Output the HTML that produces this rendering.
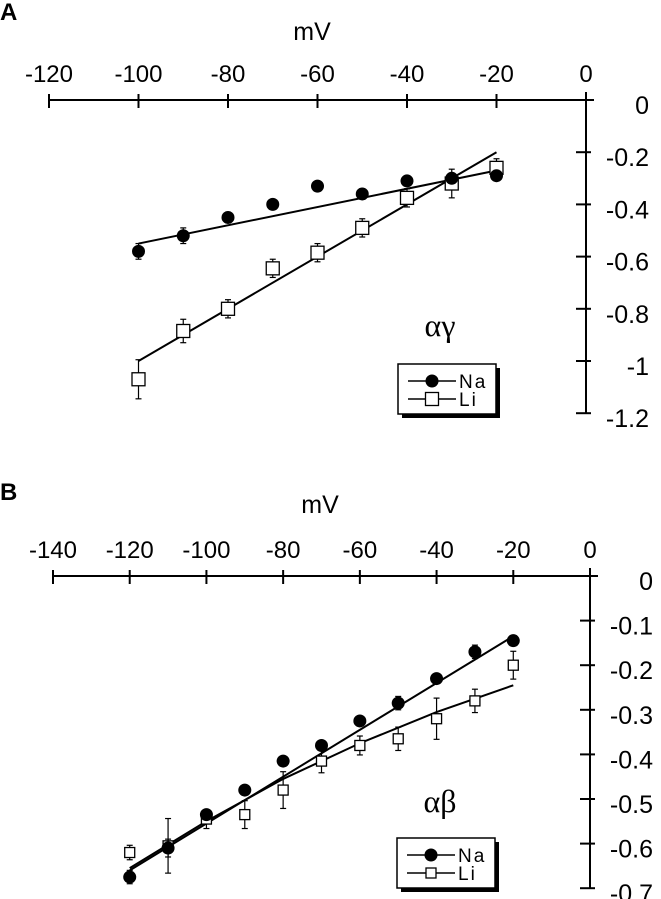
<!DOCTYPE html>
<html><head><meta charset="utf-8">
<style>
html,body{margin:0;padding:0;background:#fff;}
svg{display:block;font-family:"Liberation Sans",Arial,sans-serif;}
</style></head>
<body>
<svg id="chart" width="661" height="899" viewBox="0 0 661 899" xmlns="http://www.w3.org/2000/svg"></svg>
<script>
// ---- Panel A data (alpha-gamma) ----
const aXTicks = [-120,-100,-80,-60,-40,-20,0];
const aYTicks = [0,-0.2,-0.4,-0.6,-0.8,-1,-1.2];
const aVolt = [-100,-90,-80,-70,-60,-50,-40,-30,-20];
const aNa = [-0.58,-0.52,-0.45,-0.40,-0.33,-0.36,-0.31,-0.30,-0.29];
const aNaErr = [0.03,0.03,0.02,0.01,0.01,0.02,0.01,0.01,0.02];
const aLi = [-1.07,-0.885,-0.80,-0.645,-0.585,-0.49,-0.375,-0.32,-0.26];
const aLiErr = [0.05,0.02,0.01,0.01,0.01,0.01,0.01,0.03,0.01];
const aNaFitX = [-100,-20];
const aNaFitY = [-0.55,-0.27];
const aLiFitX = [-100,-20];
const aLiFitY = [-1.0,-0.2];
// ---- Panel B data (alpha-beta) ----
const bXTicks = [-140,-120,-100,-80,-60,-40,-20,0];
const bYTicks = [0,-0.1,-0.2,-0.3,-0.4,-0.5,-0.6,-0.7];
const bVolt = [-120,-110,-100,-90,-80,-70,-60,-50,-40,-30,-20];
const bNa = [-0.675,-0.61,-0.535,-0.48,-0.415,-0.38,-0.325,-0.285,-0.23,-0.17,-0.145];
const bNaErr = [0.015,0.02,0.01,0.01,0.01,0.01,0.01,0.015,0.01,0.015,0.01];
const bLi = [-0.62,-0.605,-0.545,-0.535,-0.48,-0.415,-0.38,-0.365,-0.32,-0.28,-0.20];
const bLiErr = [0.005,0.05,0.01,0.02,0.03,0.015,0.01,0.015,0.035,0.015,0.02];
const bNaFitX = [-120,-20];
const bNaFitY = [-0.66,-0.135];
const bLiFitX = [-120,-100,-80,-60,-40,-20];
const bLiFitY = [-0.655,-0.55,-0.455,-0.375,-0.305,-0.245];

const NS="http://www.w3.org/2000/svg";
const svg=document.getElementById('chart');
function mk(tag,attrs,parent){const e=document.createElementNS(NS,tag);for(const k in attrs)e.setAttribute(k,attrs[k]);(parent||svg).appendChild(e);return e;}

function panel(cfg){
  const g=mk('g',{});
  
  
  const sx=v=>cfg.x0+(v-cfg.xmin)/(0-cfg.xmin)*(cfg.xZero-cfg.x0);
  const sy=v=>cfg.yAxis+(-v)*cfg.yPerUnit;
  const xa=mk('line',{x1:sx(cfg.xmin),y1:cfg.yAxis,x2:cfg.xZero+8,y2:cfg.yAxis,stroke:'#000','stroke-width':2},g);
  
  
  cfg.xTicks.forEach(t=>{
    mk('line',{x1:sx(t),y1:cfg.yAxis-6,x2:sx(t),y2:cfg.yAxis+8,stroke:'#000','stroke-width':2},g);
    const tx=mk('text',{x:sx(t),y:cfg.yAxis-18,'font-size':24,'text-anchor':'middle'},g);
    tx.textContent=String(t);
    
    
  });
  const ml=mk('text',{x:cfg.mvX,y:cfg.mvY,'font-size':25,'text-anchor':'middle'},g);
  ml.textContent='mV';
  
  
  const ylast=cfg.yTicks[cfg.yTicks.length-1];
  const ya=mk('line',{x1:cfg.xZero,y1:cfg.yAxis-8,x2:cfg.xZero,y2:sy(ylast),stroke:'#000','stroke-width':2},g);
  
  
  cfg.yTicks.forEach(t=>{
    if(t!==0) mk('line',{x1:cfg.xZero-10,y1:sy(t),x2:cfg.xZero+5,y2:sy(t),stroke:'#000','stroke-width':2},g);
    const ty=mk('text',{x:cfg.xZero+63,y:sy(t)+14,'font-size':25,'text-anchor':'end'},g);
    ty.textContent=String(t);
    
    
  });
  const fit=(xs,ys,name)=>{
    const p=mk('polyline',{points:xs.map((x,i)=>sx(x)+','+sy(ys[i])).join(' '),fill:'none',stroke:'#000','stroke-width':2},g);
    
    
  };
  fit(cfg.naFitX,cfg.naFitY,'na-fit-line');
  fit(cfg.liFitX,cfg.liFitY,'li-fit-line');
  cfg.volt.forEach((v,i)=>{
    const cx=sx(v),cy=sy(cfg.li[i]),e=cfg.liErr[i]*cfg.yPerUnit,h=cfg.sq/2;
    mk('line',{x1:cx,y1:cy-h-e,x2:cx,y2:cy+h+e,stroke:'#000','stroke-width':1.2},g);
    mk('line',{x1:cx-3,y1:cy-h-e,x2:cx+3,y2:cy-h-e,stroke:'#000','stroke-width':1.2},g);
    mk('line',{x1:cx-3,y1:cy+h+e,x2:cx+3,y2:cy+h+e,stroke:'#000','stroke-width':1.2},g);
    const r=mk('rect',{x:cx-h,y:cy-h,width:cfg.sq,height:cfg.sq,fill:'#fff',stroke:'#000','stroke-width':1.3},g);
    
    
  });
  cfg.volt.forEach((v,i)=>{
    const cx=sx(v),cy=sy(cfg.na[i]),e=cfg.naErr[i]*cfg.yPerUnit;
    mk('line',{x1:cx,y1:cy-e,x2:cx,y2:cy+e,stroke:'#000','stroke-width':1.2},g);
    mk('line',{x1:cx-3,y1:cy-e,x2:cx+3,y2:cy-e,stroke:'#000','stroke-width':1.2},g);
    mk('line',{x1:cx-3,y1:cy+e,x2:cx+3,y2:cy+e,stroke:'#000','stroke-width':1.2},g);
    const c=mk('circle',{cx:cx,cy:cy,r:6.5,fill:'#000'},g);
    
    
  });
  const ti=mk('text',{x:cfg.titleX,y:cfg.titleY,'font-size':32,'font-family':'"Liberation Serif",serif','text-anchor':'middle'},g);
  ti.textContent=cfg.title;
  
  
  const lg=mk('g',{},g);
  
  
  const lx=cfg.legX,ly=cfg.legY;
  mk('rect',{x:lx+4,y:ly+4,width:98,height:50,fill:'#000'},lg);
  mk('rect',{x:lx,y:ly,width:98,height:50,fill:'#fff',stroke:'#000','stroke-width':1.5},lg);
  mk('line',{x1:lx+10,y1:ly+17,x2:lx+58,y2:ly+17,stroke:'#000','stroke-width':1.5},lg);
  mk('circle',{cx:lx+34,cy:ly+17,r:6.5,fill:'#000'},lg);
  const t1=mk('text',{x:lx+61,y:ly+24,'font-size':19,'letter-spacing':2},lg);t1.textContent='Na';
  
  
  mk('line',{x1:lx+10,y1:ly+35,x2:lx+58,y2:ly+35,stroke:'#000','stroke-width':1.5},lg);
  mk('rect',{x:lx+34-cfg.sq/2,y:ly+35-cfg.sq/2,width:cfg.sq,height:cfg.sq,fill:'#fff',stroke:'#000','stroke-width':1.3},lg);
  const t2=mk('text',{x:lx+61,y:ly+42,'font-size':19,'letter-spacing':2},lg);t2.textContent='Li';
  
  
  const pl=mk('text',{x:cfg.letX,y:cfg.letY,'font-size':24,'font-weight':'bold'},g);
  pl.textContent=cfg.letter;
  
  
}

panel({name:'panel-a',letter:'A',letX:0,letY:20,x0:49,xmin:-120,xZero:586,yAxis:100,yPerUnit:261,
  xTicks:aXTicks,yTicks:aYTicks,volt:aVolt,na:aNa,naErr:aNaErr,li:aLi,liErr:aLiErr,
  naFitX:aNaFitX,naFitY:aNaFitY,liFitX:aLiFitX,liFitY:aLiFitY,sq:13,
  mvX:312,mvY:40,title:'αγ',titleX:440,titleY:336,legX:398,legY:364});
panel({name:'panel-b',letter:'B',letX:0,letY:500,x0:53,xmin:-140,xZero:590,yAxis:576,yPerUnit:446,
  xTicks:bXTicks,yTicks:bYTicks,volt:bVolt,na:bNa,naErr:bNaErr,li:bLi,liErr:bLiErr,
  naFitX:bNaFitX,naFitY:bNaFitY,liFitX:bLiFitX,liFitY:bLiFitY,sq:10,
  mvX:320,mvY:513,title:'αβ',titleX:440,titleY:812,legX:397,legY:838});
</script>
</body></html>
